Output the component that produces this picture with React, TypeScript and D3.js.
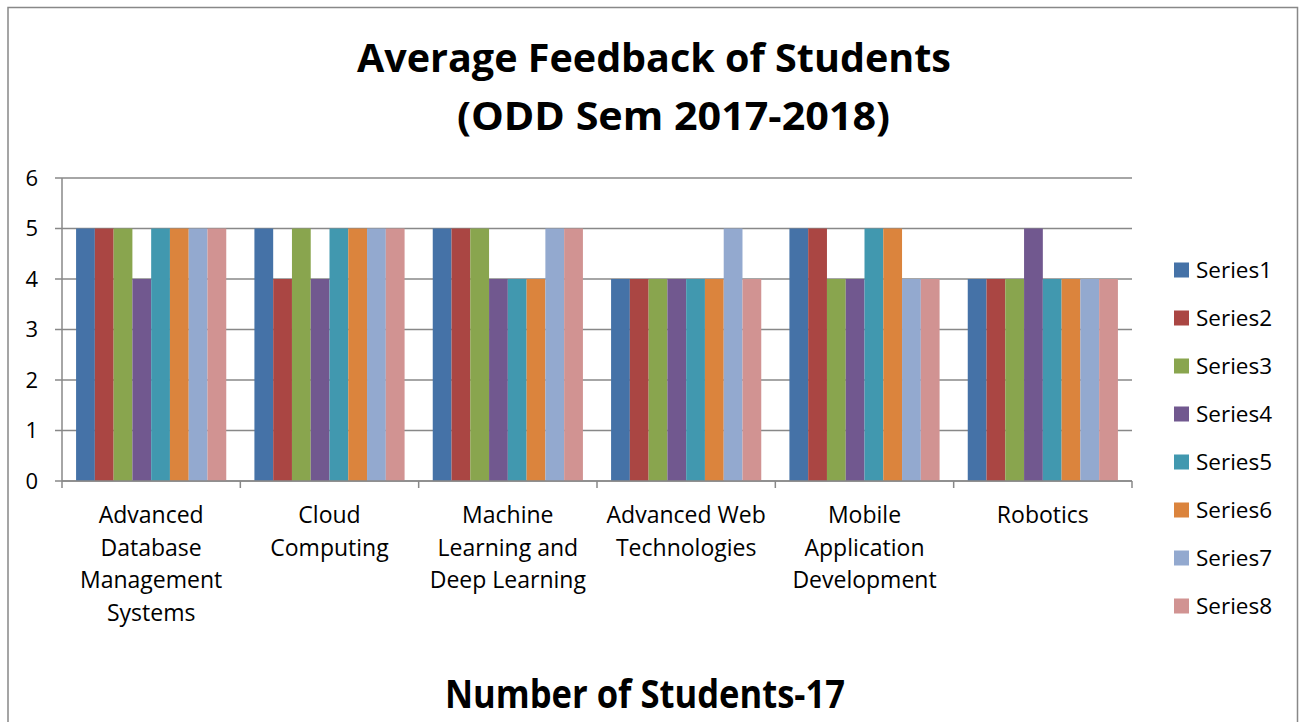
import React from "react";
import * as d3 from "d3";

const categories = [
  ["Advanced", "Database", "Management", "Systems"],
  ["Cloud", "Computing"],
  ["Machine", "Learning and", "Deep Learning"],
  ["Advanced Web", "Technologies"],
  ["Mobile", "Application", "Development"],
  ["Robotics"],
];
const seriesNames = ["Series1", "Series2", "Series3", "Series4", "Series5", "Series6", "Series7", "Series8"];
const series1 = [5, 5, 5, 4, 5, 4];
const series2 = [5, 4, 5, 4, 5, 4];
const series3 = [5, 5, 5, 4, 4, 4];
const series4 = [4, 4, 4, 4, 4, 5];
const series5 = [5, 5, 4, 4, 5, 4];
const series6 = [5, 5, 4, 4, 5, 4];
const series7 = [5, 5, 5, 5, 4, 4];
const series8 = [5, 5, 5, 4, 4, 4];
const seriesValues = [series1, series2, series3, series4, series5, series6, series7, series8];
const colors = ["#4572A7", "#AA4643", "#89A54E", "#71588F", "#4198AF", "#DB843D", "#93A9CF", "#D19392"];
const yTicks = [0, 1, 2, 3, 4, 5, 6];

const FONT = "'Open Sans', Lato, sans-serif";

export default function App() {
  const left = 62, right = 1132, top = 178, bottom = 481;
  const x0 = d3.scaleBand<number>().domain(d3.range(categories.length)).range([left, right]).paddingInner(0).paddingOuter(0);
  const bw = x0.bandwidth();
  const barW = bw / (seriesNames.length + 1.5);
  const y = d3.scaleLinear().domain([0, 6]).range([bottom, top]);

  return (
    <svg width={1299} height={722} style={{ position: "absolute", left: 0, top: 0, background: "#fff" }}>
      <rect x={0} y={0} width={1299} height={722} fill="#fff" />
      <path d="M8,722 L8,7.5 L1297.5,7.5 L1297.5,722" fill="none" stroke="#888" strokeWidth={1.5} />
      <text x={357} y={72} textLength={594} lengthAdjust="spacingAndGlyphs" fontFamily={FONT} fontWeight="bold" fontSize={38.5} fill="#000">Average Feedback of Students</text>
      <text x={457} y={130} textLength={433} lengthAdjust="spacingAndGlyphs" fontFamily={FONT} fontWeight="bold" fontSize={38.5} fill="#000">(ODD Sem 2017-2018)</text>
      {yTicks.map((t) => (
        <g key={t}>
          <line x1={left - 7} x2={right} y1={y(t)} y2={y(t)} stroke="#888" strokeWidth={1.5} />
          <text x={38} y={y(t)} dy="0.36em" textAnchor="end" fontFamily={FONT} fontSize={22} fill="#000">{t}</text>
        </g>
      ))}
      {categories.map((_, ci) => (
        <g key={ci}>
          {seriesValues.map((vals, si) => (
            <rect
              key={si}
              x={(x0(ci) as number) + barW * 0.75 + si * barW}
              y={y(vals[ci])}
              width={barW}
              height={bottom - y(vals[ci])}
              fill={colors[si]}
            />
          ))}
        </g>
      ))}
      <line x1={left} x2={left} y1={top} y2={bottom} stroke="#888" strokeWidth={1.5} />
      <line x1={left} x2={right} y1={bottom} y2={bottom} stroke="#888" strokeWidth={1.5} />
      {d3.range(categories.length + 1).map((i) => {
        const xx = left + i * bw;
        return <line key={i} x1={xx} x2={xx} y1={bottom} y2={bottom + 7} stroke="#888" strokeWidth={1.5} />;
      })}
      {categories.map((lines, ci) => (
        <text key={ci} textAnchor="middle" fontFamily={FONT} fontSize={23} fill="#000">
          {lines.map((l, li) => (
            <tspan key={li} x={(x0(ci) as number) + bw / 2} y={523 + li * 32.5}>{l}</tspan>
          ))}
        </text>
      ))}
      {seriesNames.map((n, i) => (
        <g key={n}>
          <rect x={1174} y={262.5 + i * 48} width={15} height={15} fill={colors[i]} />
          <text x={1196} y={270 + i * 48} dy="0.36em" fontFamily={FONT} fontSize={22.5} fill="#000">{n}</text>
        </g>
      ))}
      <text x={445} y={708} textLength={400} lengthAdjust="spacingAndGlyphs" fontFamily={FONT} fontWeight="bold" fontSize={38.5} fill="#000">Number of Students-17</text>
    </svg>
  );
}
